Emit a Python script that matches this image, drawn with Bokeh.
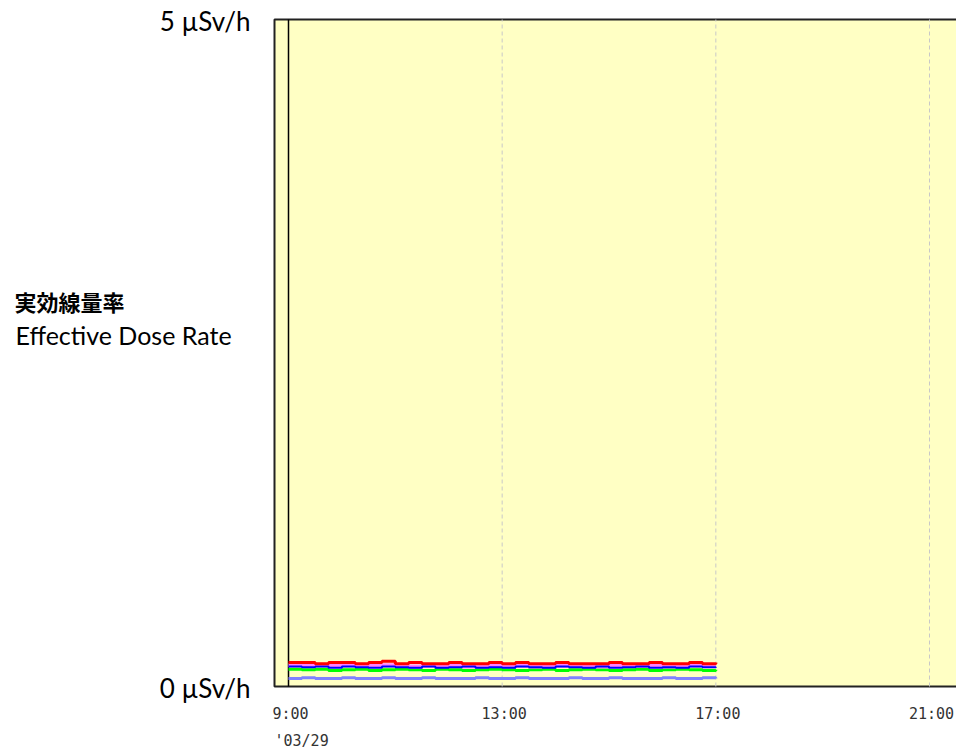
import pandas as pd
from bokeh.plotting import figure
from bokeh.models import Range1d, Label, BoxAnnotation
from bokeh.embed import file_html
from bokeh.resources import INLINE

# sample times (every 15 min, 9:00 - 17:00) on 2011-03-29
times = pd.date_range("2011-03-29 09:00", "2011-03-29 17:00", freq="15min")
hours = [t.hour + t.minute / 60 for t in times]

red = [0.18, 0.18, 0.17, 0.18, 0.18, 0.17, 0.18, 0.19, 0.17, 0.18, 0.17,
       0.17, 0.18, 0.17, 0.17, 0.18, 0.17, 0.18, 0.17, 0.17, 0.18, 0.17,
       0.17, 0.17, 0.18, 0.17, 0.17, 0.18, 0.17, 0.17, 0.18, 0.17, 0.18]
pink = [0.16, 0.155, 0.16, 0.155, 0.16, 0.155, 0.155, 0.16, 0.155, 0.15, 0.155,
        0.16, 0.155, 0.15, 0.155, 0.155, 0.16, 0.155, 0.15, 0.155, 0.155, 0.16,
        0.155, 0.15, 0.155, 0.16, 0.155, 0.155, 0.15, 0.155, 0.16, 0.155, 0.155]
blue = [0.15, 0.145, 0.15, 0.14, 0.15, 0.145, 0.14, 0.15, 0.145, 0.14, 0.15,
        0.14, 0.145, 0.15, 0.14, 0.145, 0.14, 0.15, 0.145, 0.14, 0.15, 0.145,
        0.14, 0.15, 0.14, 0.145, 0.15, 0.14, 0.145, 0.14, 0.15, 0.145, 0.14]
green = [0.13, 0.125, 0.13, 0.12, 0.125, 0.13, 0.12, 0.125, 0.13, 0.125, 0.12,
         0.13, 0.125, 0.12, 0.125, 0.13, 0.125, 0.12, 0.125, 0.13, 0.12, 0.125,
         0.13, 0.125, 0.12, 0.125, 0.13, 0.12, 0.125, 0.13, 0.125, 0.12, 0.125]
violet = [0.06, 0.065, 0.06, 0.06, 0.065, 0.06, 0.06, 0.065, 0.06, 0.06, 0.065,
          0.06, 0.06, 0.06, 0.065, 0.06, 0.06, 0.065, 0.06, 0.06, 0.06, 0.065,
          0.06, 0.06, 0.065, 0.06, 0.06, 0.06, 0.065, 0.06, 0.06, 0.065, 0.06]

x_ticks = [9, 13, 17, 21]
x_tick_labels = ["9:00", "13:00", "17:00", "21:00"]
y_ticks = [0, 5]
y_tick_labels = ["0 µSv/h", "5 µSv/h"]
date_label = "'03/29"
title_jp = "実効線量率"
title_en = "Effective Dose Rate"

# layout (pixels) -> data ranges
W, H = 956, 750
px_left, px_first_tick, px_last_tick = 274, 288, 929
px_top, px_bottom = 19, 686
ppx = (px_last_tick - px_first_tick) / (x_ticks[-1] - x_ticks[0])
ppy = (px_bottom - px_top) / (y_ticks[-1] - y_ticks[0])
x0 = x_ticks[0] - px_first_tick / ppx
x1 = x_ticks[0] + (W - px_first_tick) / ppx
x_plot_left = x_ticks[0] - (px_first_tick - px_left) / ppx
y1 = y_ticks[-1] + px_top / ppy
y0 = y_ticks[0] - (H - px_bottom) / ppy

p = figure(width=W, height=H, x_range=Range1d(x0, x1), y_range=Range1d(y0, y1),
           x_axis_type=None, y_axis_type=None,
           output_backend="svg", toolbar_location=None,
           min_border=0)
p.background_fill_color = "white"
p.border_fill_color = "white"
p.outline_line_color = None

# plot area
p.add_layout(BoxAnnotation(left=x_plot_left, right=x1 + 1, bottom=y_ticks[0], top=y_ticks[-1],
                           fill_color="#ffffc4", fill_alpha=1.0,
                           line_color="#222222", line_alpha=1.0, line_width=2,
                           level="underlay"))

# vertical grid lines
gx = x_ticks[1:]
p.segment(x0=gx, y0=[y_ticks[0]] * len(gx), x1=gx, y1=[y_ticks[-1]] * len(gx),
          line_color="#c8c8c8", line_dash="4 3", line_width=1)
p.segment(x0=[x_ticks[0]], y0=[y_ticks[0]], x1=[x_ticks[0]], y1=[y_ticks[-1]],
          line_color="black", line_width=1.5)

# series
p.step(hours, violet, mode="after", line_color="#8080ff", line_width=3)
p.step(hours, green, mode="after", line_color="#00ff00", line_width=3)
p.step(hours, pink, mode="after", line_color="#ff80ff", line_width=4)
p.step(hours, blue, mode="after", line_color="#0000ff", line_width=2)
p.step(hours, red, mode="after", line_color="#ff0000", line_width=3)

# y tick labels
for v, t in zip(y_ticks, y_tick_labels):
    p.add_layout(Label(x=250, x_units="canvas", y=v, y_units="data", y_offset=-1,
                       text=t, text_font="Lato", text_font_size="26px",
                       text_color="black", text_align="right", text_baseline="middle"))

# x tick labels
for v, t in zip(x_ticks, x_tick_labels):
    p.add_layout(Label(x=v, x_units="data", y=713, y_units="canvas", x_offset=2,
                       text=t, text_font="DejaVu Sans Mono", text_font_size="15px",
                       text_color="#333333", text_align="center", text_baseline="middle"))
p.add_layout(Label(x=274, x_units="canvas", y=740, y_units="canvas",
                   text=date_label, text_font="DejaVu Sans Mono", text_font_size="15px",
                   text_color="#333333", text_align="left", text_baseline="middle"))

# y title
p.add_layout(Label(x=14, y=300, x_units="canvas", y_units="canvas",
                   text=title_jp, text_font="Noto Sans CJK JP",
                   text_font_style="bold", text_font_size="22px",
                   text_baseline="middle", text_align="left", text_color="black"))
p.add_layout(Label(x=15, y=334, x_units="canvas", y_units="canvas",
                   text=title_en, text_font="Lato",
                   text_font_size="25px",
                   text_baseline="middle", text_align="left", text_color="black"))

open("out.html", "w").write(file_html(p, INLINE))
